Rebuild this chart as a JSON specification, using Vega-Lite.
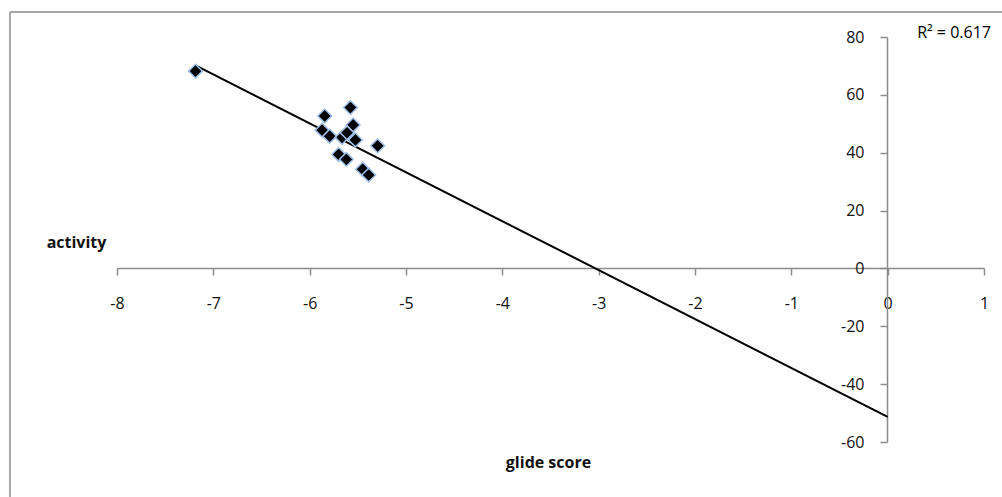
{
  "$schema": "https://vega.github.io/schema/vega-lite/v6.json",
  "width": 867,
  "height": 405,
  "autosize": {"type": "none"},
  "padding": {"left": 117, "top": 37, "right": 18, "bottom": 55},
  "background": "white",
  "config": {
    "view": {"stroke": null},
    "font": "Open Sans"
  },
  "datasets": {
    "points": [
      {"glide": -7.185, "activity": 68.2},
      {"glide": -5.844, "activity": 52.7},
      {"glide": -5.577, "activity": 55.6},
      {"glide": -5.549, "activity": 49.6},
      {"glide": -5.871, "activity": 47.8},
      {"glide": -5.792, "activity": 45.7},
      {"glide": -5.664, "activity": 45.3},
      {"glide": -5.612, "activity": 46.9},
      {"glide": -5.525, "activity": 44.4},
      {"glide": -5.294, "activity": 42.4},
      {"glide": -5.699, "activity": 39.4},
      {"glide": -5.619, "activity": 37.7},
      {"glide": -5.45, "activity": 34.3},
      {"glide": -5.387, "activity": 32.3}
    ],
    "trend": [
      {"glide": -7.19, "activity": 70.3},
      {"glide": 0, "activity": -51.3}
    ],
    "frame": [
      {"x": -9.111, "x2": -9.111, "y": 88.6, "y2": -90},
      {"x": -9.111, "x2": 1.6, "y": 88.6, "y2": 88.6}
    ],
    "note": [
      {"glide": 0.307, "activity": 81.4, "label": "R² = 0.617"}
    ]
  },
  "layer": [
    {
      "data": {"name": "frame"},
      "mark": {"type": "rule", "color": "#a6a6a6", "strokeWidth": 2},
      "encoding": {
        "x": {"field": "x", "type": "quantitative", "scale": {"domain": [-8, 1], "nice": false, "zero": false}},
        "x2": {"field": "x2"},
        "y": {"field": "y", "type": "quantitative", "scale": {"domain": [-60, 80], "nice": false, "zero": false}},
        "y2": {"field": "y2"}
      }
    },
    {
      "data": {"name": "trend"},
      "mark": {"type": "line", "color": "#000000", "strokeWidth": 2},
      "encoding": {
        "x": {"field": "glide", "type": "quantitative"},
        "y": {"field": "activity", "type": "quantitative"}
      }
    },
    {
      "data": {"name": "points"},
      "mark": {"type": "point", "shape": "diamond", "filled": true, "size": 190, "fill": "#000000", "stroke": "#9cc0ea", "strokeWidth": 1.5, "opacity": 1},
      "encoding": {
        "x": {
          "field": "glide", "type": "quantitative",
          "axis": {
            "orient": "bottom",
            "offset": -174,
            "values": [-8, -7, -6, -5, -4, -3, -2, -1, 0, 1],
            "labelExpr": "datum.value < 0 ? '-' + abs(datum.value) : '' + datum.value",
            "grid": false,
            "domainColor": "#8c8c8c",
            "domainWidth": 1.5,
            "tickColor": "#8c8c8c",
            "tickWidth": 1.5,
            "tickSize": 7,
            "labelPadding": 20,
            "labelFont": "Open Sans",
            "labelFontSize": 16,
            "labelColor": "#111111",
            "labelFlush": false,
            "labelOverlap": false,
            "title": "glide score",
            "titleFont": "Open Sans",
            "titleFontSize": 16,
            "titleFontWeight": "bold",
            "titleColor": "#111111",
            "titleX": 431,
            "titleY": 194,
            "titleBaseline": "middle",
            "titleAlign": "center"
          }
        },
        "y": {
          "field": "activity", "type": "quantitative",
          "axis": {
            "orient": "left",
            "offset": -770,
            "values": [-60, -40, -20, 0, 20, 40, 60, 80],
            "labelExpr": "datum.value < 0 ? '-' + abs(datum.value) : '' + datum.value",
            "grid": false,
            "domainColor": "#8c8c8c",
            "domainWidth": 1.5,
            "tickColor": "#8c8c8c",
            "tickWidth": 1.5,
            "tickSize": 7,
            "labelPadding": 16,
            "labelFont": "Open Sans",
            "labelFontSize": 16,
            "labelColor": "#111111",
            "labelFlush": false,
            "labelOverlap": false,
            "title": "activity",
            "titleFont": "Open Sans",
            "titleFontSize": 16,
            "titleFontWeight": "bold",
            "titleColor": "#111111",
            "titleAngle": 0,
            "titleX": -811,
            "titleY": 205,
            "titleBaseline": "middle",
            "titleAlign": "center"
          }
        }
      }
    },
    {
      "data": {"name": "note"},
      "mark": {"type": "text", "align": "left", "baseline": "middle", "font": "Open Sans", "fontSize": 16, "color": "#000000"},
      "encoding": {
        "x": {"field": "glide", "type": "quantitative"},
        "y": {"field": "activity", "type": "quantitative"},
        "text": {"field": "label"}
      }
    }
  ]
}
